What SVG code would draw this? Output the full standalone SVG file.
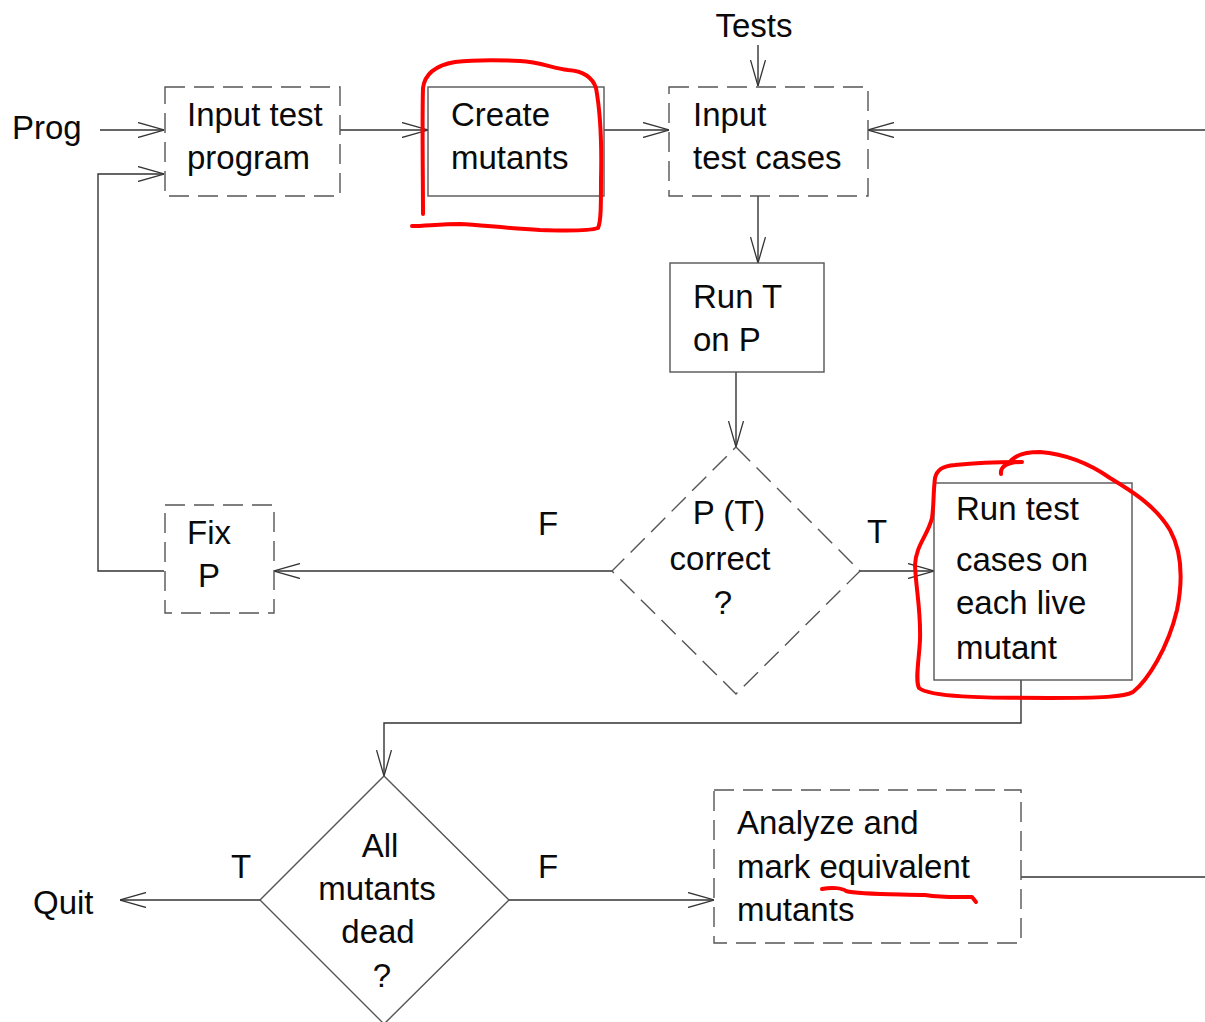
<svg xmlns="http://www.w3.org/2000/svg" width="1205" height="1022" viewBox="0 0 1205 1022">
  <style>
    .t { font-family: "Liberation Sans", Arial, sans-serif; font-size: 33px; fill: #0a0a0a; }
    .mid { text-anchor: middle; }
    .box { fill: none; stroke: #555; stroke-width: 1.4; }
    .dash { stroke-dasharray: 20 9; }
    .wire { fill: none; stroke: #333; stroke-width: 1.4; }
    .ink { fill: none; stroke: #f00; stroke-width: 4; stroke-linecap: round; stroke-linejoin: round; }
  </style>
  <defs>
    <marker id="arrow" viewBox="0 0 26 16" refX="26" refY="8" markerWidth="26" markerHeight="16" markerUnits="userSpaceOnUse" orient="auto">
      <path d="M0,0.5 L26,8 L0,15.5" fill="none" stroke="#333" stroke-width="1.3"/>
    </marker>
  </defs>
  <rect width="1205" height="1022" fill="#fff"/>

  <!-- free labels -->
  <text class="t" x="12" y="139">Prog</text>
  <text class="t mid" x="754" y="37">Tests</text>
  <text class="t" x="538" y="535">F</text>
  <text class="t" x="867" y="543">T</text>
  <text class="t" x="231" y="878">T</text>
  <text class="t" x="538" y="878">F</text>
  <text class="t" x="33" y="914">Quit</text>

  <!-- connectors -->
  <g id="connectors">
    <line class="wire" x1="100" y1="130" x2="164" y2="130" marker-end="url(#arrow)"/>
    <line class="wire" x1="340" y1="130" x2="428" y2="130" marker-end="url(#arrow)"/>
    <line class="wire" x1="604" y1="130" x2="669" y2="130" marker-end="url(#arrow)"/>
    <line class="wire" x1="758" y1="45" x2="758" y2="86" marker-end="url(#arrow)"/>
    <line class="wire" x1="1205" y1="130" x2="868" y2="130" marker-end="url(#arrow)"/>
    <line class="wire" x1="758" y1="196" x2="758" y2="263" marker-end="url(#arrow)"/>
    <line class="wire" x1="736" y1="372" x2="736" y2="447" marker-end="url(#arrow)"/>
    <line class="wire" x1="612" y1="571" x2="274" y2="571" marker-end="url(#arrow)"/>
    <polyline class="wire" points="164,571 98,571 98,174 164,174" marker-end="url(#arrow)"/>
    <line class="wire" x1="860" y1="571" x2="934" y2="571" marker-end="url(#arrow)"/>
    <polyline class="wire" points="1021,680 1021,723 384,723 384,776" marker-end="url(#arrow)"/>
    <line class="wire" x1="260" y1="900" x2="120" y2="900" marker-end="url(#arrow)"/>
    <line class="wire" x1="509" y1="900" x2="714" y2="900" marker-end="url(#arrow)"/>
    <line class="wire" x1="1021" y1="877" x2="1205" y2="877"/>
  </g>

  <!-- nodes -->
  <g id="input-program">
    <rect class="box dash" x="165" y="87" width="175" height="109"/>
    <text class="t" x="187" y="126">Input test</text>
    <text class="t" x="187" y="169">program</text>
  </g>
  <g id="create-mutants">
    <rect class="box" x="428" y="87" width="176" height="109"/>
    <text class="t" x="451" y="126">Create</text>
    <text class="t" x="451" y="169">mutants</text>
  </g>
  <g id="input-tests">
    <rect class="box dash" x="669" y="87" width="199" height="109"/>
    <text class="t" x="693" y="126">Input</text>
    <text class="t" x="693" y="169">test cases</text>
  </g>
  <g id="run-t">
    <rect class="box" x="670" y="263" width="154" height="109"/>
    <text class="t" x="693" y="308">Run T</text>
    <text class="t" x="693" y="351">on P</text>
  </g>
  <g id="pt-correct">
    <polygon class="box dash" points="736,447 860,571 736,694 612,571"/>
    <text class="t mid" x="729" y="524">P (T)</text>
    <text class="t mid" x="720" y="570">correct</text>
    <text class="t mid" x="723" y="614">?</text>
  </g>
  <g id="fix-p">
    <rect class="box dash" x="165" y="505" width="109" height="108"/>
    <text class="t" x="187" y="544">Fix</text>
    <text class="t mid" x="209" y="587">P</text>
  </g>
  <g id="run-mutants">
    <rect class="box" x="934" y="483" width="198" height="197"/>
    <text class="t" x="956" y="520">Run test</text>
    <text class="t" x="956" y="571">cases on</text>
    <text class="t" x="956" y="614">each live</text>
    <text class="t" x="956" y="659">mutant</text>
  </g>
  <g id="all-dead">
    <polygon class="box" points="384,776 509,900 384,1024 260,900"/>
    <text class="t mid" x="380" y="857">All</text>
    <text class="t mid" x="377" y="900">mutants</text>
    <text class="t mid" x="378" y="943">dead</text>
    <text class="t mid" x="382" y="987">?</text>
  </g>
  <g id="analyze">
    <rect class="box dash" x="714" y="790" width="307" height="153"/>
    <text class="t" x="737" y="834">Analyze and</text>
    <text class="t" x="737" y="878">mark equivalent</text>
    <text class="t" x="737" y="921">mutants</text>
  </g>

  <!-- red pen marks -->
  <g id="pen-marks">
    <path class="ink" d="M423,214 C423,180 422,120 423,88 C425,72 438,65 455,62 C480,59 500,60 520,61 C540,62 552,68 568,70 C582,71 592,76 596,88 C600,110 602,140 601,180 C601,205 601,222 598,228 C590,231 570,231 540,230 C505,228 480,225 460,224 C440,224 425,226 412,226"/>
    <path class="ink" d="M1001,474 C1000,466 1008,462 1022,462 C1000,462 975,463 955,465 C942,466 937,470 935,478 C933,495 934,505 932,518 C928,535 916,545 915,565 C916,590 921,610 920,640 C919,660 915,680 919,688 C930,697 980,698 1050,698 C1100,698 1125,697 1133,692 C1148,680 1168,648 1177,610 C1184,575 1181,550 1170,530 C1155,505 1130,490 1110,478 C1090,464 1065,454 1040,452 C1025,452 1015,455 1010,462"/>
    <path class="ink" d="M822,889 C832,887 842,888 846,891 C860,895 900,894 925,895 C945,898 960,897 972,897 L976,902"/>
  </g>
</svg>
